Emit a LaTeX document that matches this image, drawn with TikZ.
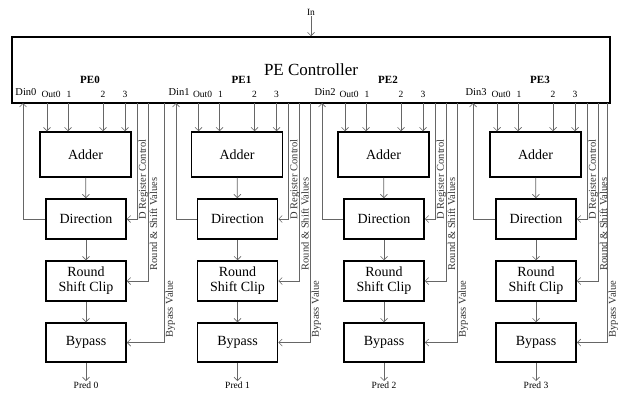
\documentclass[tikz,border=0pt]{standalone}
\usepackage{fontspec}
\setmainfont{Liberation Serif}
\usetikzlibrary{positioning, arrows.meta}

\begin{document}
\begin{tikzpicture}[x=1pt, y=-1pt,
  blk/.style={draw, line width=1.5pt, inner sep=0pt, align=center, font=\fontsize{14}{15}\selectfont},
  arr/.style={draw=black!60, line width=0.7pt, -{Straight Barb[length=3.5pt,width=7pt]}},
  tag/.style={inner sep=1pt, font=\fontsize{9.5}{10}\selectfont},
  side/.style={rotate=90, anchor=north west, inner sep=0.5pt, text=black!80, font=\fontsize{10.5}{12}\selectfont}]
\useasboundingbox (0,0) rectangle (621,396);

% controller on top
\node[draw, line width=1.5pt, minimum width=598pt, minimum height=66pt,
      font=\fontsize{17}{20}\selectfont] (ctrl) at (311,70) {PE Controller};
\node[tag] (in) at (311,12) {In};
\draw[arr] (in) -- (in |- ctrl.north);

% one column per PE: offset / Din line / bypass line
\foreach \i/\x/\d/\b in {0/0/23/164, 1/151.5/176/310, 2/298/322/457, 3/450/473/607} {
  \node[blk, minimum width=91pt, minimum height=45pt] (add\i) at (\x+85.5,154.5) {Adder};
  \node[blk, minimum width=80pt, minimum height=40pt] (dir\i) at (\x+86,219) {Direction};
  \node[blk, minimum width=80pt, minimum height=40pt] (rsc\i) at (\x+86,281) {Round\\Shift Clip};
  \node[blk, minimum width=80pt, minimum height=39pt] (byp\i) at (\x+86,342.5) {Bypass};
  \node[tag, anchor=north] (pred\i) at (\x+86,381) {Pred \i};
  \draw[arr] (add\i) -- (dir\i);
  \draw[arr] (dir\i) -- (rsc\i);
  \draw[arr] (rsc\i) -- (byp\i);
  \draw[arr] (byp\i) -- (pred\i);

  % labels inside the controller
  \node[tag, font=\fontsize{11}{12}\selectfont\bfseries] (pe\i) at (\x+90,80) {PE\i};
  \node[tag, font=\fontsize{10.5}{12}\selectfont] (dinl\i) at (\d+3,92) {Din\i};
  \foreach \dx/\lx/\t [count=\k] in {47/51/Out0, 68/69/1, 103/103/2, 125/125/3} {
    \coordinate (o\i\k) at (\x+\dx,103);
    \node[tag] (t\i\k) at (\x+\lx,94) {\t};
    \draw[arr] (o\i\k) -- (add\i.north -| o\i\k);
  }

  % feedback and control lines
  \coordinate (din\i) at (\d,103);
  \coordinate (dr\i) at (\x+137,103);
  \coordinate (rs\i) at (\x+148,103);
  \coordinate (bv\i) at (\b,103);
  \draw[arr] (dir\i.west) -| (din\i);
  \draw[arr] (dr\i) |- (dir\i.east);
  \draw[arr] (rs\i) |- (rsc\i.east);
  \draw[arr] (bv\i) |- (byp\i.east);
  \node[side] (drl\i) at (\x+138,220) {D Register Control};
  \node[side] (rsl\i) at (\x+149,271) {Round \& Shift Values};
  \node[side] (bvl\i) at (\b+1,338) {Bypass Value};
}
\end{tikzpicture}
\end{document}
